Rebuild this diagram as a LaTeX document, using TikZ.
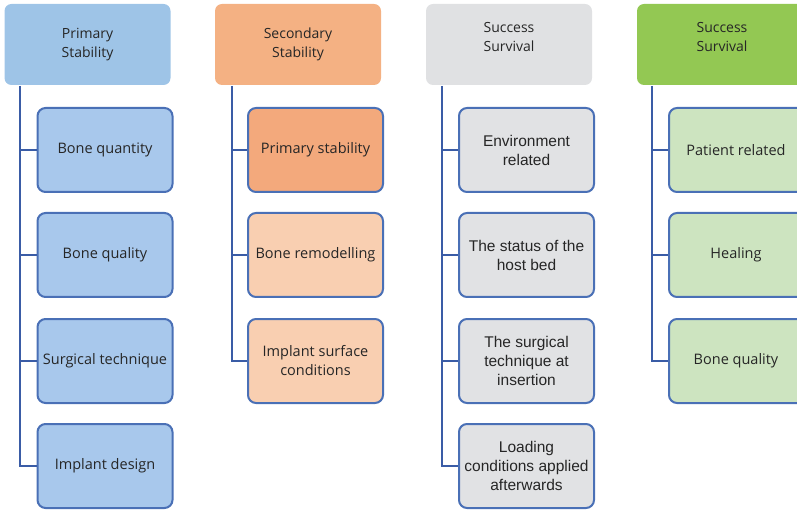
\documentclass[tikz,border=0pt]{standalone}
\usepackage{fontspec}
\setmainfont{Open Sans}
\newfontfamily\arialf{Liberation Sans}
\definecolor{hblue}{HTML}{9EC4E7}
\definecolor{cblue}{HTML}{A8C8EC}
\definecolor{hor}{HTML}{F4B183}
\definecolor{cor}{HTML}{F3A97C}
\definecolor{cor2}{HTML}{F9CFB1}
\definecolor{hgray}{HTML}{E0E1E3}
\definecolor{cgray}{HTML}{E1E2E4}
\definecolor{hgreen}{HTML}{93C853}
\definecolor{cgreen}{HTML}{CDE4C0}
\definecolor{bord}{HTML}{4A70B6}
\definecolor{conn}{HTML}{3A5CA6}
\tikzset{
  head/.style={rounded corners=7pt, minimum width=166pt, minimum height=81pt, align=center, font=\fontsize{14}{19}\selectfont, text=black!85, inner sep=0pt},
  child/.style={rounded corners=8pt, draw=bord, line width=2pt, minimum width=135pt, minimum height=84pt, align=center, font=\fontsize{14.5}{19}\selectfont, text=black!85, inner sep=0pt},
  arialtext/.style={font=\arialf\fontsize{15.5}{19}\selectfont},
  link/.style={draw=conn, line width=2.6pt},
}
\begin{document}
\begin{tikzpicture}[x=1pt,y=-1pt]
\useasboundingbox (0,0) rectangle (797,510);
\clip (0,0) rectangle (797,510);
% headers
\node[head, fill=hblue] (h1) at (87.5,44.5) {Primary\\Stability};
\node[head, fill=hor] (h2) at (298,44.5) {Secondary\\Stability};
\node[head, fill=hgray] (h3) at (509,44.5) {\raisebox{2.5pt}[0pt][0pt]{\begin{tabular}{@{}c@{}}Success\\Survival\end{tabular}}};
\node[head, fill=hgreen, minimum width=170pt] (h4) at (722,44.5) {\raisebox{2.5pt}[0pt][0pt]{\begin{tabular}{@{}c@{}}Success\\Survival\end{tabular}}};
% column 1
\node[child, fill=cblue] (a1) at (105,150) {Bone quantity};
\node[child, fill=cblue] (a2) at (105,255) {Bone quality};
\node[child, fill=cblue] (a3) at (105,361) {Surgical technique};
\node[child, fill=cblue] (a4) at (105,466) {Implant design};
% column 2
\node[child, fill=cor] (b1) at (315.5,150) {Primary stability};
\node[child, fill=cor2] (b2) at (315.5,255) {Bone remodelling};
\node[child, fill=cor2] (b3) at (315.5,361) {Implant surface\\conditions};
% column 3
\node[child, fill=cgray, arialtext] (c1) at (526.5,150) {Environment\\related};
\node[child, fill=cgray, arialtext] (c2) at (526.5,255) {The status of the\\host bed};
\node[child, fill=cgray, arialtext] (c3) at (526.5,361) {The surgical\\technique at\\insertion};
\node[child, fill=cgray, arialtext] (c4) at (526.5,466) {Loading\\conditions applied\\afterwards};
% column 4
\node[child, fill=cgreen, minimum width=140pt] (d1) at (739,150) {\hspace*{-6pt}Patient related};
\node[child, fill=cgreen, minimum width=140pt] (d2) at (739,255) {\hspace*{-6pt}Healing};
\node[child, fill=cgreen, minimum width=140pt] (d3) at (739,361) {\hspace*{-6pt}Bone quality};
% connectors
\coordinate (v1) at (20,86);
\coordinate (v2) at (232,86);
\coordinate (v3) at (442,86);
\coordinate (v4) at (652,86);
\draw[link] (v1) |- (a4.west);
\draw[link] (v1 |- a1.west) -- (a1.west);
\draw[link] (v1 |- a2.west) -- (a2.west);
\draw[link] (v1 |- a3.west) -- (a3.west);
\draw[link] (v2) |- (b3.west);
\draw[link] (v2 |- b1.west) -- (b1.west);
\draw[link] (v2 |- b2.west) -- (b2.west);
\draw[link] (v3) |- (c4.west);
\draw[link] (v3 |- c1.west) -- (c1.west);
\draw[link] (v3 |- c2.west) -- (c2.west);
\draw[link] (v3 |- c3.west) -- (c3.west);
\draw[link] (v4) |- (d3.west);
\draw[link] (v4 |- d1.west) -- (d1.west);
\draw[link] (v4 |- d2.west) -- (d2.west);
\end{tikzpicture}
\end{document}
